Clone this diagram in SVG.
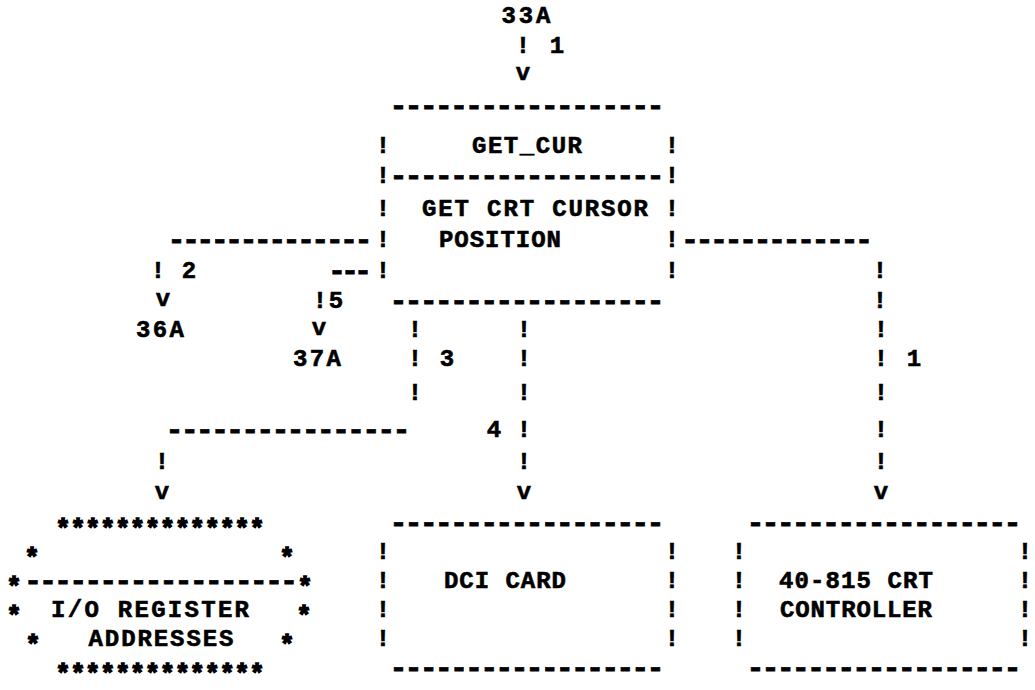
<svg xmlns="http://www.w3.org/2000/svg" width="1035" height="690" viewBox="0 0 1035 690">
<style>
text{font-family:"Liberation Mono","DejaVu Sans Mono",monospace;font-weight:bold;font-size:24px;fill:#000;stroke:#000;stroke-width:0.6px;text-anchor:middle}
.d{font-size:30px;stroke-width:0.8px}
.s{font-size:25px;stroke-width:1.4px}
</style>
<rect width="1035" height="690" fill="#fff"/>
<g id="ref-33A"><text x="526" y="22.6" textLength="49" lengthAdjust="spacing">33A</text></g>
<g id="get-cur">
<text class="d" x="527" y="115" textLength="275" lengthAdjust="spacing">------------------</text>
<text x="383" y="152.6">!</text><text x="527" y="152.6" textLength="110" lengthAdjust="spacing">GET_CUR</text><text x="672" y="152.6">!</text>
<text x="383" y="182.6">!</text><text class="d" x="527" y="185" textLength="275" lengthAdjust="spacing">------------------</text><text x="672" y="182.6">!</text>
<text x="383" y="215.6">!</text><text x="535" y="215.6" textLength="226" lengthAdjust="spacing">GET CRT CURSOR</text><text x="672" y="215.6">!</text>
<text x="383" y="246.6">!</text><text x="500" y="246.6" textLength="122" lengthAdjust="spacing">POSITION</text><text x="672" y="246.6">!</text>
<text x="383" y="277.6">!</text><text x="672" y="277.6">!</text>
<text class="d" x="527" y="310" textLength="275" lengthAdjust="spacing">------------------</text>
</g>
<g id="ref-36A"><text x="160" y="336.6" textLength="48" lengthAdjust="spacing">36A</text></g>
<g id="ref-37A"><text x="317" y="365.6" textLength="48" lengthAdjust="spacing">37A</text></g>
<g id="io-register-addresses">
<text class="s" x="160" y="536.6" textLength="209" lengthAdjust="spacing">**************</text>
<text class="s" x="32" y="565.6">*</text><text class="s" x="287" y="565.6">*</text>
<text class="s" x="14" y="594.6">*</text><text class="d" x="161" y="590" textLength="274" lengthAdjust="spacing">------------------</text><text class="s" x="305" y="594.6">*</text>
<text class="s" x="14" y="623.6">*</text><text x="150" y="616.6" textLength="198" lengthAdjust="spacing">I/O REGISTER</text><text class="s" x="304" y="623.6">*</text>
<text class="s" x="33" y="652.6">*</text><text x="161" y="645.6" textLength="145" lengthAdjust="spacing">ADDRESSES</text><text class="s" x="287" y="652.6">*</text>
<text class="s" x="160" y="681.6" textLength="209" lengthAdjust="spacing">**************</text>
</g>
<g id="dci-card">
<text class="d" x="527" y="532" textLength="275" lengthAdjust="spacing">------------------</text>
<text x="383" y="558.6">!</text><text x="672" y="558.6">!</text>
<text x="383" y="587.6">!</text><text x="505" y="587.6" textLength="122" lengthAdjust="spacing">DCI CARD</text><text x="672" y="587.6">!</text>
<text x="383" y="616.6">!</text><text x="672" y="616.6">!</text>
<text x="383" y="645.6">!</text><text x="672" y="645.6">!</text>
<text class="d" x="527" y="677" textLength="275" lengthAdjust="spacing">------------------</text>
</g>
<g id="crt-controller">
<text class="d" x="884" y="532" textLength="275" lengthAdjust="spacing">------------------</text>
<text x="739" y="558.6">!</text><text x="1025" y="558.6">!</text>
<text x="739" y="587.6">!</text><text x="856" y="587.6" textLength="154" lengthAdjust="spacing">40-815 CRT</text><text x="1025" y="587.6">!</text>
<text x="739" y="616.6">!</text><text x="856" y="616.6" textLength="152" lengthAdjust="spacing">CONTROLLER</text><text x="1025" y="616.6">!</text>
<text x="739" y="645.6">!</text><text x="1025" y="645.6">!</text>
<text class="d" x="884" y="677" textLength="275" lengthAdjust="spacing">------------------</text>
</g>
<g id="connectors">
<text x="523" y="52.6">!</text><text x="557" y="52.6">1</text>
<text x="523" y="80">v</text>
<text class="d" x="270" y="249" textLength="205" lengthAdjust="spacing">--------------</text>
<text class="d" x="777" y="249" textLength="192" lengthAdjust="spacing">-------------</text>
<text x="158" y="277.6">!</text><text x="189" y="277.6">2</text>
<text class="d" x="350" y="280" textLength="44" lengthAdjust="spacing">---</text>
<text x="880" y="277.6">!</text>
<text x="163" y="306">v</text><text x="320" y="307.6">!</text><text x="336" y="307.6">5</text><text x="880" y="307.6">!</text>
<text x="319" y="335">v</text><text x="415" y="336.6">!</text><text x="524" y="336.6">!</text><text x="881" y="336.6">!</text>
<text x="415" y="365.6">!</text><text x="447" y="365.6">3</text><text x="524" y="365.6">!</text><text x="881" y="365.6">!</text><text x="914" y="365.6">1</text>
<text x="415" y="399.6">!</text><text x="524" y="399.6">!</text><text x="881" y="399.6">!</text>
<text class="d" x="288" y="439" textLength="245" lengthAdjust="spacing">----------------</text>
<text x="494" y="436.6">4</text><text x="524" y="436.6">!</text><text x="881" y="436.6">!</text>
<text x="162" y="468.6">!</text><text x="524" y="468.6">!</text><text x="881" y="468.6">!</text>
<text x="162" y="499">v</text><text x="524" y="499">v</text><text x="881" y="499">v</text>
</g>
</svg>
